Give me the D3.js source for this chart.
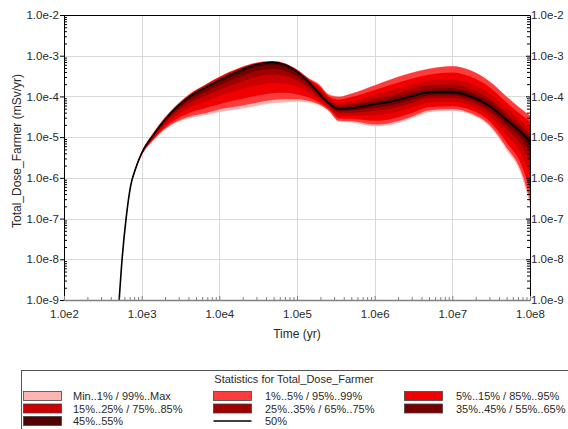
<!DOCTYPE html>
<html><head><meta charset="utf-8">
<script src="https://cdn.jsdelivr.net/npm/d3@7"></script>
<style>
body{margin:0;background:#fff;}
svg{display:block;font-family:"Liberation Sans",Arial,sans-serif;}
</style>
</head><body>
<svg id="c" width="568" height="429"></svg>
<script>
// ---- data (log10 of time in years, log10 of dose in mSv/yr) ----
const log10Time = [2.70, 2.75, 2.80, 2.86, 2.92, 3.00, 3.15, 3.37, 3.62, 3.84, 4.00, 4.22, 4.46, 4.68, 4.85, 5.00, 5.15, 5.28, 5.41, 5.54, 5.71, 6.00, 6.20, 6.46, 6.71, 7.00, 7.23, 7.49, 7.70, 7.88, 8.00];
const qMax = [-9.3, -7.94, -6.98, -6.16, -5.76, -5.36, -4.89, -4.36, -3.93, -3.68, -3.51, -3.32, -3.17, -3.13, -3.19, -3.34, -3.55, -3.68, -3.94, -4.00, -3.92, -3.72, -3.58, -3.42, -3.31, -3.25, -3.35, -3.64, -4.00, -4.29, -4.46];
const q99 = [-9.3, -7.94, -6.98, -6.16, -5.76, -5.36, -4.89, -4.37, -3.94, -3.69, -3.52, -3.33, -3.18, -3.13, -3.19, -3.34, -3.56, -3.70, -3.96, -4.01, -3.93, -3.73, -3.59, -3.43, -3.32, -3.26, -3.36, -3.65, -4.01, -4.30, -4.47];
const q95 = [-9.3, -7.94, -6.98, -6.17, -5.77, -5.37, -4.91, -4.38, -3.95, -3.70, -3.53, -3.34, -3.19, -3.14, -3.20, -3.35, -3.57, -3.74, -4.00, -4.08, -4.01, -3.84, -3.72, -3.57, -3.46, -3.41, -3.51, -3.79, -4.15, -4.44, -4.62];
const q85 = [-9.3, -7.95, -6.99, -6.17, -5.77, -5.38, -4.92, -4.39, -3.97, -3.72, -3.56, -3.36, -3.20, -3.15, -3.21, -3.37, -3.60, -3.80, -4.06, -4.16, -4.11, -3.96, -3.86, -3.72, -3.61, -3.58, -3.68, -3.95, -4.29, -4.58, -4.79];
const q75 = [-9.3, -7.95, -6.99, -6.17, -5.77, -5.38, -4.93, -4.40, -3.98, -3.74, -3.57, -3.38, -3.21, -3.15, -3.22, -3.38, -3.61, -3.85, -4.10, -4.22, -4.18, -4.05, -3.97, -3.83, -3.72, -3.71, -3.81, -4.07, -4.41, -4.70, -4.92];
const q65 = [-9.3, -7.95, -6.99, -6.18, -5.78, -5.38, -4.94, -4.41, -3.99, -3.75, -3.59, -3.39, -3.22, -3.16, -3.22, -3.38, -3.63, -3.88, -4.13, -4.26, -4.23, -4.12, -4.04, -3.92, -3.81, -3.80, -3.90, -4.15, -4.49, -4.78, -5.01];
const q55 = [-9.3, -7.95, -6.99, -6.18, -5.78, -5.39, -4.95, -4.42, -4.00, -3.76, -3.59, -3.40, -3.23, -3.16, -3.23, -3.39, -3.63, -3.91, -4.16, -4.29, -4.27, -4.16, -4.10, -3.98, -3.87, -3.86, -3.96, -4.21, -4.55, -4.84, -5.07];
const q50 = [-9.3, -7.95, -6.99, -6.18, -5.78, -5.39, -4.95, -4.42, -4.00, -3.76, -3.60, -3.40, -3.23, -3.16, -3.23, -3.39, -3.64, -3.92, -4.17, -4.31, -4.29, -4.19, -4.13, -4.01, -3.90, -3.90, -4.00, -4.25, -4.58, -4.87, -5.11];
const q45 = [-9.3, -7.95, -6.99, -6.18, -5.78, -5.39, -4.96, -4.44, -4.03, -3.80, -3.65, -3.46, -3.29, -3.22, -3.29, -3.43, -3.67, -3.94, -4.18, -4.33, -4.31, -4.22, -4.16, -4.04, -3.93, -3.93, -4.03, -4.28, -4.62, -4.93, -5.20];
const q35 = [-9.3, -7.95, -6.99, -6.18, -5.79, -5.40, -4.97, -4.47, -4.09, -3.87, -3.73, -3.55, -3.39, -3.32, -3.38, -3.51, -3.72, -3.97, -4.20, -4.36, -4.35, -4.28, -4.22, -4.10, -3.98, -3.97, -4.07, -4.33, -4.70, -5.03, -5.36];
const q25 = [-9.3, -7.95, -7.00, -6.19, -5.79, -5.41, -4.99, -4.51, -4.16, -3.97, -3.83, -3.68, -3.53, -3.46, -3.50, -3.61, -3.79, -4.01, -4.23, -4.40, -4.40, -4.35, -4.30, -4.17, -4.04, -4.04, -4.13, -4.40, -4.80, -5.18, -5.58];
const q15 = [-9.3, -7.96, -7.00, -6.20, -5.80, -5.43, -5.02, -4.57, -4.27, -4.11, -3.99, -3.86, -3.74, -3.67, -3.69, -3.76, -3.90, -4.07, -4.27, -4.47, -4.47, -4.46, -4.42, -4.28, -4.14, -4.13, -4.22, -4.51, -4.95, -5.38, -5.89];
const q05 = [-9.3, -7.96, -7.01, -6.20, -5.81, -5.44, -5.05, -4.65, -4.40, -4.28, -4.19, -4.09, -3.99, -3.92, -3.91, -3.95, -4.02, -4.14, -4.31, -4.54, -4.55, -4.60, -4.56, -4.42, -4.26, -4.24, -4.33, -4.63, -5.14, -5.64, -6.28];
const q01 = [-9.3, -7.96, -7.01, -6.21, -5.82, -5.45, -5.07, -4.70, -4.49, -4.40, -4.32, -4.25, -4.16, -4.09, -4.07, -4.07, -4.11, -4.19, -4.35, -4.60, -4.61, -4.69, -4.65, -4.51, -4.34, -4.31, -4.41, -4.72, -5.26, -5.81, -6.55];
const qMin = [-9.3, -7.96, -7.01, -6.21, -5.82, -5.46, -5.08, -4.72, -4.53, -4.45, -4.38, -4.32, -4.24, -4.17, -4.14, -4.13, -4.15, -4.21, -4.36, -4.62, -4.64, -4.73, -4.70, -4.55, -4.38, -4.35, -4.44, -4.76, -5.32, -5.89, -6.67];

const xTicks = [1e2, 1e3, 1e4, 1e5, 1e6, 1e7, 1e8];
const xTickLabels = ["1.0e2", "1.0e3", "1.0e4", "1.0e5", "1.0e6", "1.0e7", "1.0e8"];
const yTicks = [1e-9, 1e-8, 1e-7, 1e-6, 1e-5, 1e-4, 1e-3, 1e-2];
const yTickLabels = ["1.0e-9", "1.0e-8", "1.0e-7", "1.0e-6", "1.0e-5", "1.0e-4", "1.0e-3", "1.0e-2"];

const legendTitle = "Statistics for Total_Dose_Farmer";
const legendLabels = ["Min..1% / 99%..Max", "1%..5% / 95%..99%", "5%..15% / 85%..95%",
  "15%..25% / 75%..85%", "25%..35% / 65%..75%", "35%..45% / 55%..65%",
  "45%..55%", "50%"];
const bandColors = ["#ffb4b4", "#ff3c3c", "#f00000", "#cc0000", "#a00000", "#760000", "#520000"];

// ---- layout ----
const L = 64, R = 530, T = 15, B = 300;
const svg = d3.select("#c");
const x = d3.scaleLog().domain([1e2, 1e8]).range([L, R]);
const y = d3.scaleLog().domain([1e-9, 1e-2]).range([B, T]);
const textCol = "#2a2a2a";

// minor tick values
const xMinor = [], yMinor = [];
for (let e = 2; e < 8; e++) for (let k = 2; k <= 9; k++) xMinor.push(k * Math.pow(10, e));
for (let e = -9; e < -2; e++) for (let k = 2; k <= 9; k++) yMinor.push(k * Math.pow(10, e));

// grid
const grid = svg.append("g").attr("stroke", "#d9d9d9").attr("stroke-width", 1);
grid.selectAll(".gx").data(xTicks.slice(1, -1)).join("line")
  .attr("x1", d => Math.round(x(d)) + 0.5).attr("x2", d => Math.round(x(d)) + 0.5)
  .attr("y1", T).attr("y2", B);
grid.selectAll(".gy").data(yTicks.slice(1, -1)).join("line")
  .attr("y1", d => Math.round(y(d)) + 0.5).attr("y2", d => Math.round(y(d)) + 0.5)
  .attr("x1", L).attr("x2", R);

// clip
svg.append("defs").append("clipPath").attr("id", "clip")
  .append("rect").attr("x", L).attr("y", T).attr("width", R - L).attr("height", B - T);

const plot = svg.append("g").attr("clip-path", "url(#clip)");
const idx = log10Time.map((d, i) => i);
const px = i => x(Math.pow(10, log10Time[i]));
const bands = [[qMin, qMax], [q01, q99], [q05, q95], [q15, q85], [q25, q75], [q35, q65], [q45, q55]];
bands.forEach((b, k) => {
  const area = d3.area().x(px)
    .y0(i => y(Math.pow(10, b[0][i])))
    .y1(i => y(Math.pow(10, b[1][i])))
    .curve(d3.curveMonotoneX);
  plot.append("path").attr("d", area(idx)).attr("fill", bandColors[k]);
});
const medLine = d3.line().x(px).y(i => y(Math.pow(10, q50[i]))).curve(d3.curveMonotoneX);
plot.append("path").attr("d", medLine(idx)).attr("fill", "none").attr("stroke", "#000").attr("stroke-width", 1.6);

// axes
function styleAxis(g, col) {
  g.selectAll("text").attr("fill", textCol).style("font-size", "11.5px").style("font-family", '"Liberation Sans",Arial,sans-serif');
  g.selectAll("line").attr("stroke", col);
}
// left
const gl = svg.append("g").attr("transform", `translate(${L},0)`)
  .call(d3.axisLeft(y).tickValues(yTicks).tickFormat((d, i) => yTickLabels[i]).tickSizeInner(4).tickSizeOuter(0).tickPadding(1));
gl.select(".domain").attr("stroke", "#000");
styleAxis(gl, "#000");
const glm = svg.append("g").attr("transform", `translate(${L},0)`)
  .call(d3.axisLeft(y).tickValues(yMinor).tickFormat("").tickSizeInner(-3).tickSizeOuter(0));
glm.select(".domain").remove(); glm.selectAll("line").attr("stroke", "#000");
// right
const gr = svg.append("g").attr("transform", `translate(${R},0)`)
  .call(d3.axisRight(y).tickValues(yTicks).tickFormat((d, i) => yTickLabels[i]).tickSizeInner(-4).tickSizeOuter(0).tickPadding(1));
gr.select(".domain").attr("stroke", "#000");
styleAxis(gr, "#000");
const grm = svg.append("g").attr("transform", `translate(${R},0)`)
  .call(d3.axisRight(y).tickValues(yMinor).tickFormat("").tickSizeInner(-3).tickSizeOuter(0));
grm.select(".domain").remove(); grm.selectAll("line").attr("stroke", "#000");
// bottom
const gb = svg.append("g").attr("transform", `translate(0,${B})`)
  .call(d3.axisBottom(x).tickValues(xTicks).tickFormat((d, i) => xTickLabels[i]).tickSizeInner(-4).tickSizeOuter(0).tickPadding(10));
gb.select(".domain").attr("stroke", "#808080").attr("stroke-width", 1.5);
styleAxis(gb, "#808080");
const gbm = svg.append("g").attr("transform", `translate(0,${B})`)
  .call(d3.axisBottom(x).tickValues(xMinor).tickFormat("").tickSizeInner(-3).tickSizeOuter(0));
gbm.select(".domain").remove(); gbm.selectAll("line").attr("stroke", "#808080");
// top border
svg.append("line").attr("x1", L).attr("x2", R).attr("y1", T + 0.5).attr("y2", T + 0.5).attr("stroke", "#000");

// titles
svg.append("text").attr("x", (L + R) / 2).attr("y", 338).attr("text-anchor", "middle")
  .attr("fill", textCol).style("font-size", "12px").text("Time (yr)");
svg.append("text").attr("transform", "translate(21,151) rotate(-90)").attr("text-anchor", "middle")
  .attr("fill", textCol).style("font-size", "12px").text("Total_Dose_Farmer (mSv/yr)");

// legend
const lg = svg.append("g");
lg.append("rect").attr("x", 21.5).attr("y", 370.5).attr("width", 600).attr("height", 80)
  .attr("fill", "none").attr("stroke", "#555");
lg.append("text").attr("x", 294).attr("y", 383).attr("text-anchor", "middle")
  .attr("fill", textCol).style("font-size", "11px").text(legendTitle);
const colSw = [23.5, 213.5, 404.5], colTx = [73, 265, 456], rowY = [396, 408.5, 421];
legendLabels.forEach((lab, i) => {
  const c = i % 3, r = Math.floor(i / 3);
  if (i < 7) {
    lg.append("rect").attr("x", colSw[c]).attr("y", rowY[r] - 4.5).attr("width", 38).attr("height", 9)
      .attr("fill", bandColors[i]).attr("stroke", "#444").attr("stroke-width", 0.8);
  } else {
    lg.append("line").attr("x1", colSw[c]).attr("x2", colSw[c] + 38).attr("y1", rowY[r]).attr("y2", rowY[r])
      .attr("stroke", "#000").attr("stroke-width", 1.6);
  }
  lg.append("text").attr("x", colTx[c]).attr("y", rowY[r] + 4).attr("fill", textCol)
    .style("font-size", "11px").text(lab);
});
</script>
</body></html>
